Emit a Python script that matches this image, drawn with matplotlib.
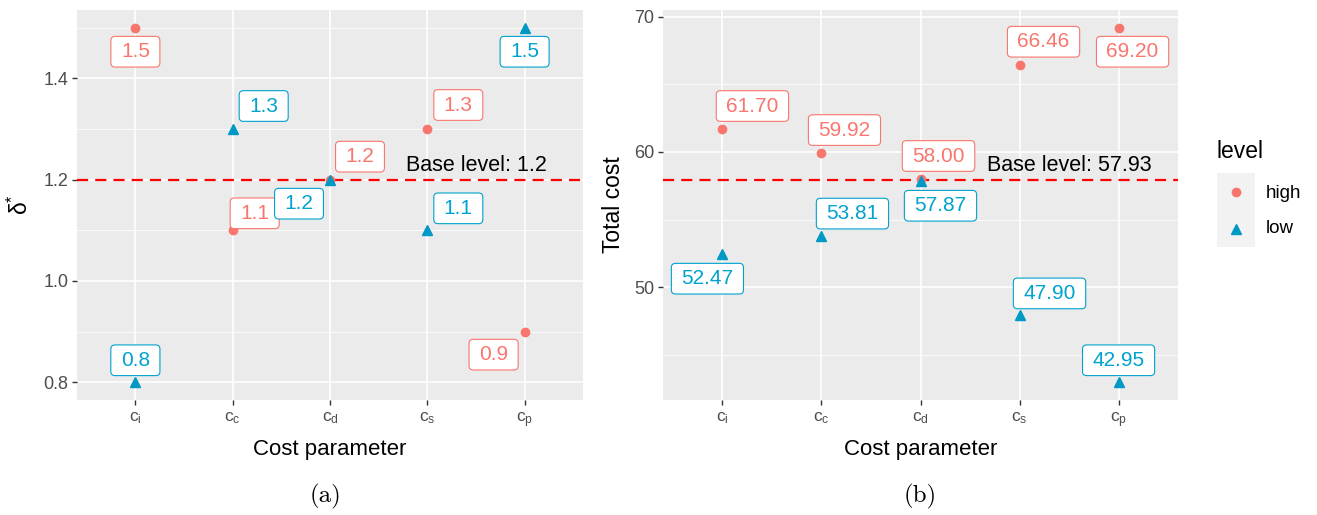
import matplotlib
matplotlib.use("Agg")
import matplotlib.pyplot as plt
from matplotlib.patches import BoxStyle
from matplotlib.ticker import FixedLocator

plt.rcParams["font.family"] = ["Liberation Sans", "DejaVu Sans"]
plt.rcParams["mathtext.fontset"] = "custom"
plt.rcParams["mathtext.rm"] = "Liberation Sans"
plt.rcParams["mathtext.it"] = "Liberation Sans:italic"

# cost parameters on the x axis
params = ["c_i", "c_c", "c_d", "c_s", "c_p"]
levels = ["high", "low"]

# optimal delta for each parameter at high / low level
delta_high = [1.5, 1.1, 1.2, 1.3, 0.9]
delta_low = [0.8, 1.3, 1.2, 1.1, 1.5]
delta_base = 1.2

# total cost for each parameter at high / low level
cost_high = [61.70, 59.92, 58.00, 66.46, 69.20]
cost_low = [52.47, 53.81, 57.87, 47.90, 42.95]
cost_base = 57.93

# where each value label sits relative to its point (pixels)
delta_high_off = [(0, -24), (22, 17), (30, 23), (31, 24), (-31, -23)]
delta_low_off = [(0, 22), (31, 23), (-31, -24), (31, 22), (0, -24)]
cost_high_off = [(30, 23), (23, 23), (18, 23), (24, 23), (14, -24)]
cost_low_off = [(-15, -25), (31, 22), (20, -25), (30, 22), (0, 22)]

HIGH = "#F8766D"
LOW = "#0099C6"
LOW_TEXT = "#00A2CE"
BG = "#EBEBEB"


class LabelBox(BoxStyle.Round):
    """Rounded label box with a bit more room at the sides."""

    def __init__(self, pad=0.28, rounding_size=0.2, side=0.2):
        super().__init__(pad=pad, rounding_size=rounding_size)
        self.side = side

    def __call__(self, x0, y0, width, height, mutation_size):
        extra = self.side * mutation_size
        return super().__call__(x0 - extra, y0, width + 2 * extra, height,
                                mutation_size)


def add_labels(ax, values, offsets, color, fmt):
    for xi, (v, (dx, dy)) in enumerate(zip(values, offsets)):
        ax.annotate(fmt.format(v), xy=(xi, v), xytext=(dx, dy),
                    textcoords="offset pixels", ha="center", va="center",
                    fontsize=15, color=color, zorder=5,
                    bbox=dict(boxstyle=LabelBox(), fc="white", ec=color,
                              lw=0.8))


def draw_panel(ax, high, low, high_off, low_off, base, fmt, ylabel,
               major, minor, label_x):
    x = list(range(len(params)))
    ax.set_facecolor(BG)
    for s in ax.spines.values():
        s.set_visible(False)

    ax.axhline(base, color="red", lw=1.6, dashes=(5, 3.2), zorder=2)
    ax.plot(x, high, "o", color=HIGH, ms=6, zorder=3)
    ax.plot(x, low, "^", color=LOW, ms=7, zorder=3)

    add_labels(ax, high, high_off, HIGH, fmt)
    add_labels(ax, low, low_off, LOW_TEXT, fmt)

    ax.annotate("Base level: " + fmt.format(base), xy=(3.5, base),
                xytext=(0, 4), textcoords="offset pixels",
                ha="center", va="bottom", fontsize=15.5, color="black",
                zorder=6)

    # ggplot-style 5% expansion on y, 0.6 on the discrete x scale
    vals = high + low
    lo, hi = min(vals), max(vals)
    pad = 0.05 * (hi - lo)
    ax.set_ylim(lo - pad, hi + pad)
    ax.set_xlim(-0.6, len(params) - 0.4)

    ax.set_xticks(x)
    ax.set_xticklabels([r"$\mathregular{%s}$" % p for p in params])
    ax.yaxis.set_major_locator(FixedLocator(major))
    ax.yaxis.set_minor_locator(FixedLocator(minor))
    ax.set_yticklabels([("%.1f" % m) if isinstance(m, float) else str(m)
                        for m in major])

    ax.set_axisbelow(True)
    ax.grid(which="major", color="white", lw=1.2)
    ax.grid(which="minor", axis="y", color="white", lw=0.6)
    ax.tick_params(which="major", length=3.8, width=1.0, color="#333333",
                   labelcolor="#4D4D4D", pad=2.5)
    ax.tick_params(axis="y", which="major", labelsize=13)
    ax.tick_params(axis="x", which="major", labelsize=12.5, pad=3.5)
    ax.tick_params(which="minor", length=0)

    ax.set_xlabel("Cost parameter", fontsize=16)
    ax.xaxis.set_label_coords(0.5, -0.1)
    ax.set_ylabel(ylabel, fontsize=16.5)
    ax.yaxis.set_label_coords(label_x, 0.5)


fig = plt.figure(figsize=(13.17, 5.15), dpi=100)
W, H = 1317, 515

ax1 = fig.add_axes([77 / W, 115 / H, 506 / W, 390 / H])
ax2 = fig.add_axes([663 / W, 115 / H, 515 / W, 390 / H])

draw_panel(ax1, delta_high, delta_low, delta_high_off, delta_low_off,
           delta_base, "{:.1f}", r"$\mathregular{δ^{*}}$",
           [0.8, 1.0, 1.2, 1.4], [0.9, 1.1, 1.3, 1.5], -0.088)
draw_panel(ax2, cost_high, cost_low, cost_high_off, cost_low_off,
           cost_base, "{:.2f}", "Total cost",
           [50, 60, 70], [45, 55, 65], -0.074)

# legend, drawn by hand to get the grey key background
leg = fig.add_axes([1217 / W, (H - 247) / H, 38 / W, 74 / H])
leg.set_facecolor("#F2F2F2")
leg.set_xlim(0, 1)
leg.set_ylim(0, 2)
leg.set_xticks([])
leg.set_yticks([])
for s in leg.spines.values():
    s.set_visible(False)
leg.plot([0.5], [1.5], "o", color=HIGH, ms=6)
leg.plot([0.5], [0.5], "^", color=LOW, ms=7)
fig.text(1216 / W, 1 - 152 / H, "level", fontsize=16.5, va="center",
         ha="left")
for lab, yy in zip(levels, [193, 229]):
    fig.text(1266 / W, 1 - yy / H, lab, fontsize=13.5, va="center",
             ha="left")

# sub-figure captions
fig.text(326 / W, 1 - 496 / H, "(a)", fontsize=18, family="cmr10",
         ha="center", va="center")
fig.text(920 / W, 1 - 496 / H, "(b)", fontsize=18, family="cmr10",
         ha="center", va="center")

fig.savefig("out.png", dpi=100, facecolor="white")
